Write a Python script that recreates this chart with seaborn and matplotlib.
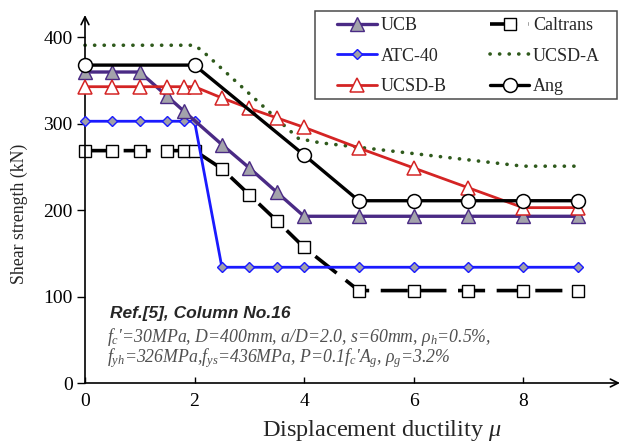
import pandas as pd
import matplotlib.pyplot as plt
import matplotlib.patches as mpatches
import seaborn as sns

# Veriler
ucb_x = [0, 0.5, 1, 1.5, 1.8, 2.5, 3, 3.5, 4, 5, 6, 7, 8, 9]
ucb_y = [360, 360, 360, 332, 315, 276, 249, 221, 193, 193, 193, 193, 193, 193]

atc_x = [0, 0.5, 1, 1.5, 1.8, 2, 2.5, 3, 3.5, 4, 5, 6, 7, 8, 9]
atc_y = [303, 303, 303, 303, 303, 303, 134, 134, 134, 134, 134, 134, 134, 134, 134]

ucsdb_x = [0, 0.5, 1, 1.5, 1.8, 2, 2.5, 3, 3.5, 4, 5, 6, 7, 8, 9]
ucsdb_y = [343, 343, 343, 343, 343, 343, 330, 318, 307, 296, 272, 249, 226, 203, 203]

caltrans_x = [0, 0.5, 1, 1.5, 1.8, 2, 2.5, 3, 3.5, 4, 5, 6, 7, 8, 9]
caltrans_y = [269, 269, 269, 269, 269, 269, 248, 218, 188, 157, 107, 107, 107, 107, 107]

ucsda_x = [0, 2, 2.15, 3.9, 4.3, 8, 9]
ucsda_y = [391, 391, 384, 283, 278, 251, 251]

ang_x = [0, 2, 4, 5, 6, 7, 8, 9]
ang_y = [368, 368, 264, 211, 211, 211, 211, 211]

x_ticks = [0, 2, 4, 6, 8]
y_ticks = [0, 100, 200, 300, 400]

sns.set_theme(style='white')
plt.rcParams['font.family'] = ['Liberation Serif', 'DejaVu Serif']
plt.rcParams['mathtext.fontset'] = 'custom'
plt.rcParams['mathtext.rm'] = 'Liberation Serif'
plt.rcParams['mathtext.it'] = 'Liberation Serif:italic'
plt.rcParams['mathtext.bf'] = 'Liberation Serif:bold'

fig = plt.figure(figsize=(6.22, 4.42), dpi=100)
ax = fig.add_axes([85 / 622, 1 - 383 / 442, 535 / 622, 368 / 442])

def ciz(x, y, **kw):
    df = pd.DataFrame({'x': x, 'y': y})
    sns.lineplot(data=df, x='x', y='y', ax=ax, sort=False, estimator=None,
                 clip_on=False, **kw)

ciz(ucsda_x, ucsda_y, color='#2f5a1c', lw=2.6, linestyle=(0, (0.05, 2.6)),
    dash_capstyle='round', label='UCSD-A', zorder=2)
ciz(caltrans_x, caltrans_y, color='black', lw=2.6, linestyle=(0, (7.5, 3.2)),
    marker='s', markersize=8.5, mfc='white', mec='black', mew=1,
    label='Caltrans', zorder=3)
ciz(atc_x, atc_y, color='#1a1aff', lw=2, marker='D', markersize=5.5,
    mfc='#a0a0a8', mec='#1a1aff', mew=1, label='ATC-40', zorder=4)
ciz(ucb_x, ucb_y, color='#4a2a85', lw=2.4, marker='^', markersize=10,
    mfc='#a3a3ab', mec='#4a2a85', mew=1, label='UCB', zorder=5)
ciz(ucsdb_x, ucsdb_y, color='#d42424', lw=2, marker='^', markersize=10,
    mfc='white', mec='#d42424', mew=1.1, label='UCSD-B', zorder=6)
ciz(ang_x, ang_y, color='black', lw=2.4, marker='o', markersize=10,
    mfc='white', mec='black', mew=1.1, label='Ang', zorder=7)

ax.set_xlim(0, 9.77)
ax.set_ylim(0, 426)
for s in ax.spines.values():
    s.set_visible(False)

# Oklu eksenler
ax.annotate('', xy=(1.0, 0), xytext=(0, 0), xycoords='axes fraction',
            arrowprops=dict(arrowstyle='->', color='black', lw=1.2,
                            shrinkA=0, shrinkB=0, mutation_scale=14))
ax.annotate('', xy=(0, 1.0), xytext=(0, 0), xycoords='axes fraction',
            arrowprops=dict(arrowstyle='->', color='black', lw=1.2,
                            shrinkA=0, shrinkB=0, mutation_scale=14))

ax.set_xticks(x_ticks)
ax.set_yticks(y_ticks)
ax.tick_params(axis='x', direction='in', length=4, width=1, pad=7,
               labelsize=14, colors='black', bottom=True)
ax.tick_params(axis='y', direction='out', length=6, width=1, pad=3,
               labelsize=14, colors='black', left=True)

ax.set_xlabel(r'Displacement ductility $\mu$', fontsize=17.5)
ax.set_ylabel('Shear strength (kN)', fontsize=12.8)
ax.xaxis.set_label_coords(0.555, -0.095)
ax.yaxis.set_label_coords(-0.107, 0.459)

# Açıklama metni
ax.text(0.46, 81, 'Ref.[5], Column No.16', fontsize=12.5, fontweight='bold',
        style='italic', family=['Liberation Sans'], va='center')
ax.text(0.4, 53, r"$f_c$'=30MPa, D=400mm, a/D=2.0, s=60mm, $\rho_h$=0.5%,",
        fontsize=12.8, style='italic', color='#505050', va='center')
ax.text(0.4, 29, r"$f_{yh}$=326MPa,$f_{ys}$=436MPa, P=0.1$f_c$'$A_g$, $\rho_g$=3.2%",
        fontsize=12.8, style='italic', color='#505050', va='center')

# Lejant
handles, labels = ax.get_legend_handles_labels()
sira = ['UCB', 'ATC-40', 'UCSD-B', 'Caltrans', 'UCSD-A', 'Ang']
h = [handles[labels.index(k)] for k in sira]
ax.legend(h, sira, ncol=2, frameon=False, fontsize=13,
          loc='upper left', bbox_to_anchor=(337 / 622, 1 - 17 / 442),
          bbox_transform=fig.transFigure, handlelength=2.2, handletextpad=0.2,
          columnspacing=2.4, labelspacing=0.75, borderpad=0, borderaxespad=0)
fig.patches.append(mpatches.Rectangle((315 / 622, 1 - 99 / 442), 302 / 622, 88 / 442,
                                      transform=fig.transFigure, fill=False,
                                      edgecolor='#4a4a4a', lw=1.1))

plt.savefig('out.png', dpi=100)
